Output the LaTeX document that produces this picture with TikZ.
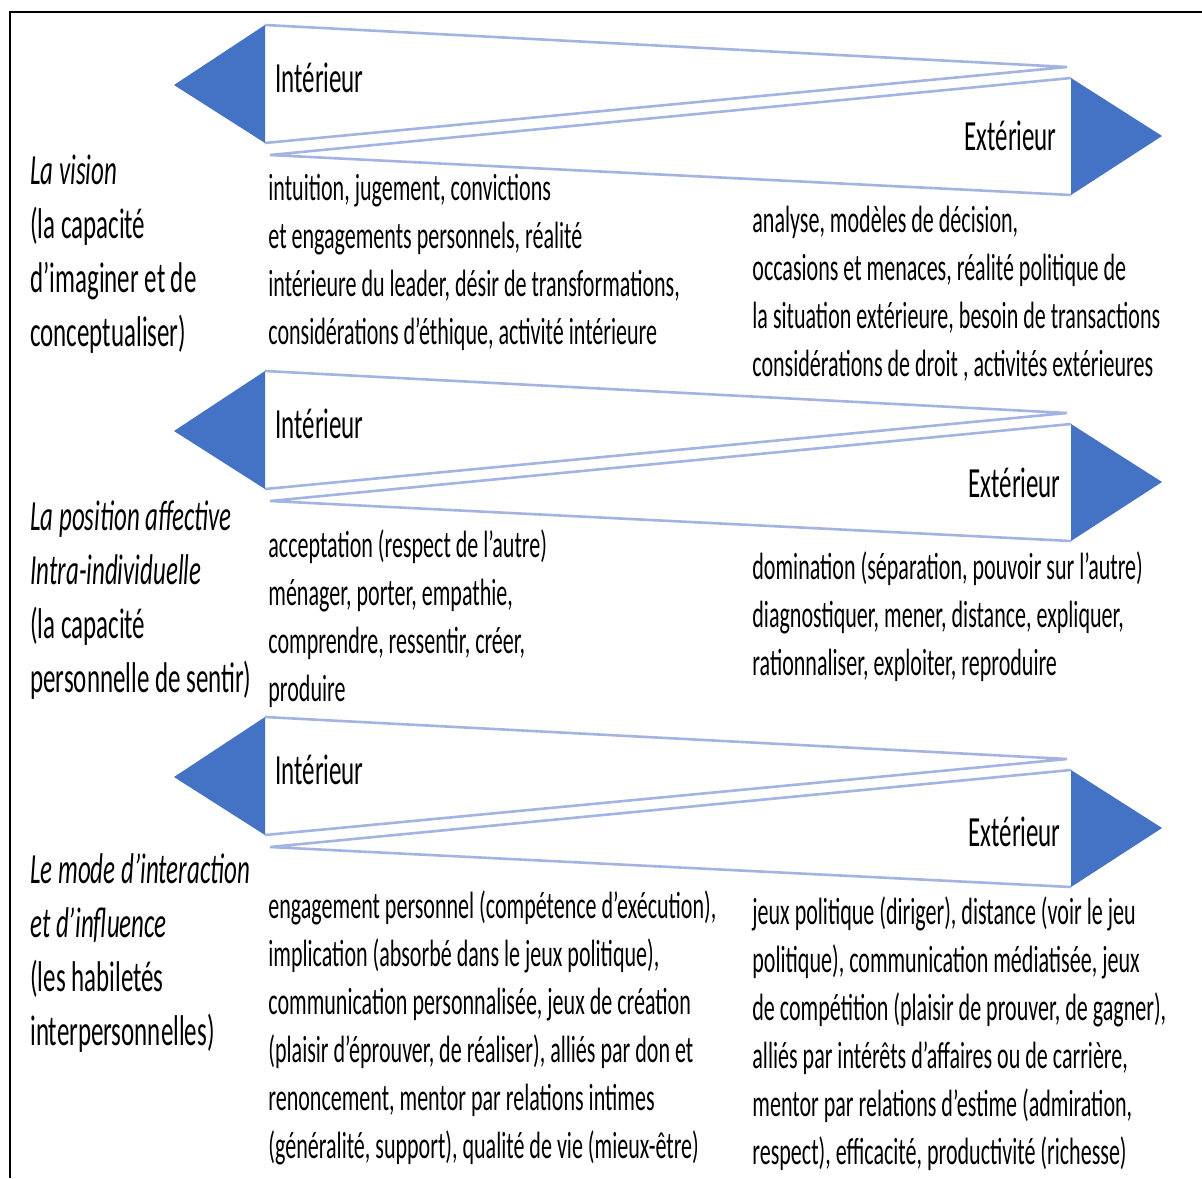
\documentclass[tikz,border=0pt]{standalone}
\usepackage{fontspec}
\setmainfont{Carlito}[FakeStretch=0.58]
\definecolor{triblue}{HTML}{4472C4}
\definecolor{wedgeblue}{HTML}{A3B4E2}
\begin{document}
\begin{tikzpicture}[x=0.5pt,y=-0.5pt,
  tri/.style={fill=triblue,draw=none},
  wedge/.style={draw=wedgeblue,line width=1.3pt,line join=miter},
  lab/.style={inner sep=0pt,font=\fontsize{21.5}{27}\selectfont},
  body/.style={inner sep=0pt,align=left,anchor=north west,font=\fontsize{19}{24}\selectfont},
  side/.style={inner sep=0pt,align=left,anchor=north west,font=\fontsize{21.5}{27}\selectfont}]
\useasboundingbox (0,0) rectangle (1202,1178);
\fill[white] (0,0) rectangle (1202,1178);
% frame
\draw[line width=1.2pt] (10,1178) -- (10,12) -- (1202,12);
% rows of arrows
\foreach \o/\n in {0/a,346/b,692/c}{
  \coordinate (\n LT) at (174,85+\o);
  \coordinate (\n LB1) at (265,25+\o);
  \coordinate (\n LB2) at (265,143+\o);
  \coordinate (\n RA) at (1067,67+\o);
  \coordinate (\n LA) at (270,155+\o);
  \coordinate (\n RB1) at (1071,78+\o);
  \coordinate (\n RB2) at (1071,195+\o);
  \coordinate (\n RT) at (1162,136+\o);
  \draw[wedge] (\n LB1) -- (\n RA) -- (\n LB2);
  \draw[wedge] (\n RB1) -- (\n LA) -- (\n RB2);
  \fill[tri] (\n LT) -- (\n LB1) -- (\n LB2) -- cycle;
  \fill[tri] (\n RT) -- (\n RB1) -- (\n RB2) -- cycle;
  \node[lab,anchor=base west] (\n int) at (275,92+\o) {Intérieur};
}
\node[lab,anchor=base east] (aext) at (1057,150) {Extérieur};
\node[lab,anchor=base east] (bext) at (1061,497) {Extérieur};
\node[lab,anchor=base east] (cext) at (1061,846) {Extérieur};
% left column (north = first baseline - 37.8)
\node[side] (s1) at (30,146) {\strut\textit{La vision}\\(la capacité\\d’imaginer et de\\conceptualiser)};
\node[side] (s2) at (30,492) {\strut\textit{La position affective}\\\textit{Intra-individuelle}\\(la capacité\\personnelle de sentir)};
\node[side] (s3) at (30,845) {\strut\textit{Le mode d’interaction}\\\textit{et d’influence}\\(les habiletés\\interpersonnelles)};
% middle column (north = first baseline - 33.6)
\node[body] (m1) at (268,166) {\strut intuition, jugement, convictions\\et engagements personnels, réalité\\intérieure du leader, désir de transformations,\\considérations d’éthique, activité intérieure};
\node[body] (m2) at (268,523) {\strut acceptation (respect de l’autre)\\ménager, porter, empathie,\\comprendre, ressentir, créer,\\produire};
\node[body] (m3) at (268,884) {\strut engagement personnel (compétence d’exécution),\\implication (absorbé dans le jeux politique),\\communication personnalisée, jeux de création\\(plaisir d’éprouver, de réaliser), alliés par don et\\renoncement, mentor par relations intimes\\(généralité, support), qualité de vie (mieux-être)};
% right column
\node[body] (r1) at (752,198) {\strut analyse, modèles de décision,\\occasions et menaces, réalité politique de\\la situation extérieure, besoin de transactions\\considérations de droit , activités extérieures};
\node[body] (r2) at (752,545) {\strut domination (séparation, pouvoir sur l’autre)\\diagnostiquer, mener, distance, expliquer,\\rationnaliser, exploiter, reproduire};
\node[body] (r3) at (752,890) {\strut jeux politique (diriger), distance (voir le jeu\\politique), communication médiatisée, jeux\\de compétition (plaisir de prouver, de gagner),\\alliés par intérêts d’affaires ou de carrière,\\mentor par relations d’estime (admiration,\\respect), efficacité, productivité (richesse)};
\end{tikzpicture}
\end{document}
